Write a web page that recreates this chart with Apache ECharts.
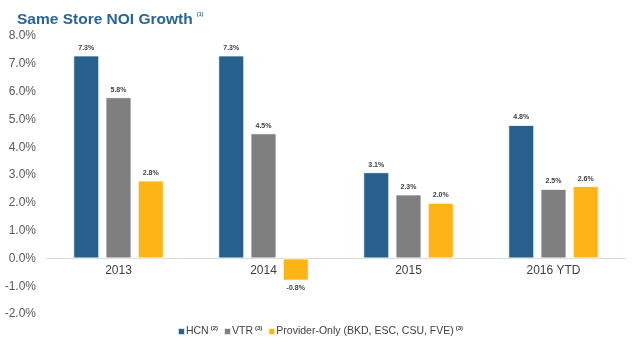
<!DOCTYPE html>
<html><head><meta charset="utf-8">
<script src="https://cdn.jsdelivr.net/npm/echarts@6/dist/echarts.min.js"></script>
<style>html,body{margin:0;padding:0;background:#fff}#c{width:640px;height:350px}</style>
</head><body><div id="c"></div>
<script>
var categories = ['2013', '2014', '2015', '2016 YTD'];
var hcn = [7.3, 7.3, 3.1, 4.8];
var vtr = [5.8, 4.5, 2.3, 2.5];
var provider = [2.8, -0.8, 2.0, 2.6];
var seriesNames = ['HCN', 'VTR', 'Provider-Only (BKD, ESC, CSU, FVE)'];
var seriesNotes = ['(2)', '(3)', '(3)'];
var colors = ['#26618d', '#7f7f7f', '#fdb515'];

function mk(vals) {
  return vals.map(function (v) {
    return { value: v, label: { position: v < 0 ? 'bottom' : 'top' } };
  });
}
var chart = echarts.init(document.getElementById('c'));
var lists = [hcn, vtr, provider];
chart.setOption({
  animation: false,
  title: {
    text: 'Same Store NOI Growth {s|(1)}',
    left: 12, top: 7,
    textStyle: { fontFamily: 'Liberation Sans, Arial', fontSize: 15.5, fontWeight: 'bold', color: '#2a6496',
      rich: { s: { fontSize: 5, fontWeight: 'bold', color: '#2a6496', verticalAlign: 'top', padding: [0,0,8,0] } } }
  },
  grid: { left: 46, right: 14, top: 36, bottom: 36 },
  xAxis: [{
    type: 'category', data: categories,
    axisTick: { show: false },
    axisLine: { onZero: true, lineStyle: { color: '#d9d9d9', width: 1 } },
    axisLabel: { show: false }
  }, {
    type: 'category', data: categories, position: 'bottom', offset: -56,
    axisTick: { show: false }, axisLine: { show: false, onZero: false },
    axisLabel: { color: '#404040', fontSize: 12, fontFamily: 'Liberation Sans, Arial', margin: 7 }
  }],
  yAxis: {
    type: 'value', min: -2, max: 8, interval: 1,
    splitLine: { show: false },
    axisLine: { show: false }, axisTick: { show: false },
    axisLabel: { color: '#595959', fontSize: 12, fontFamily: 'Liberation Sans, Arial', margin: 10,
      formatter: function (v) { return v.toFixed(1) + '%'; } }
  },
  legend: {
    bottom: 8, left: 'center',
    itemWidth: 7, itemHeight: 7, itemGap: 5,
    icon: 'rect',
    data: seriesNames,
    formatter: function (n) {
      var i = seriesNames.indexOf(n);
      return n + '{s|' + seriesNotes[i] + '}';
    },
    textStyle: { color: '#404040', fontSize: 10.5, fontFamily: 'Liberation Sans, Arial', padding: [0, 0, 0, -4],
      rich: { s: { fontSize: 6, fontWeight: 'bold', color: '#404040', verticalAlign: 'top', padding: [0,0,6,2] } } }
  },
  series: lists.map(function (l, i) {
    return {
      name: seriesNames[i], type: 'bar', data: mk(l), xAxisIndex: 0,
      barWidth: 26, barGap: '24%',
      itemStyle: { color: colors[i], borderColor: 'rgba(255,255,255,0.8)', borderWidth: 1 },
      label: { show: true, distance: 4, color: '#404040', fontSize: 7, fontWeight: 'bold', fontFamily: 'Liberation Sans, Arial',
        formatter: function (p) { return p.value.toFixed(1) + '%'; } }
    };
  })
});
</script></body></html>
